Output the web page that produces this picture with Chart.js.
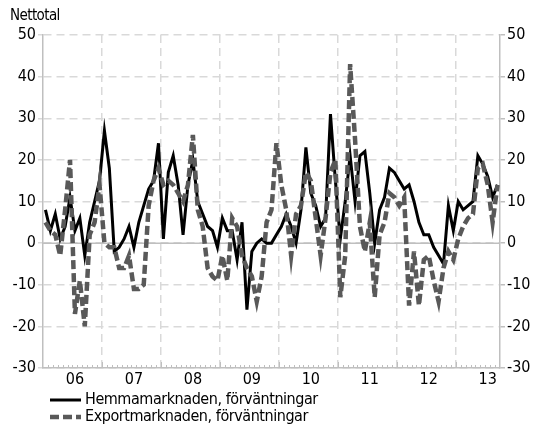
<!DOCTYPE html>
<html>
<head>
<meta charset="utf-8">
<script src="https://cdn.jsdelivr.net/npm/chart.js@4.4.0/dist/chart.umd.min.js"></script>
<style>
  html, body { margin: 0; padding: 0; background: #fff; }
  #wrap { width: 548px; height: 427px; }
</style>
</head>
<body>
<div id="wrap"><canvas id="chart"></canvas></div>
<script>
// year labels on the x axis, one per year (2006 - 2013)
const years = ['06', '07', '08', '09', '10', '11', '12', '13'];
const monthsIn2013 = 9;

// monthly categories, Jan 2006 .. Sep 2013
const months = [];
years.forEach((y, k) => {
  const n = k === years.length - 1 ? monthsIn2013 : 12;
  for (let m = 1; m <= n; m++) months.push('20' + y + '-' + String(m).padStart(2, '0'));
});

const yTicks = [-30, -20, -10, 0, 10, 20, 30, 40, 50];

// Hemmamarknaden, förväntningar (nettotal)
const hemma = [
  8, 3, 7, 1, 4, 11, 3, 6, -3, 5, 10, 15,
  27, 18, -2, -1, 1, 4, -1, 5, 9, 13, 15, 24,
  1, 17, 21, 14, 2, 14, 20, 10, 7, 4, 3, -1,
  6, 3, 3, -4, 5, -16, -2, 0, 1, 0, 0, 2,
  4, 7, 4, 0, 8, 23, 12, 9, 4, 6, 31, 15,
  1, 10, 21, 10, 21, 22, 12, 0, 8, 11, 18, 17,
  15, 13, 14, 10, 5, 2, 2, -1, -3, -5, 9, 3,
  10, 8, 9, 10, 21, 19, 16, 11, 14
];

// Exportmarknaden, förväntningar (nettotal)
const export_ = [
  5, 3, 2, -3, 8, 20, -17, -9, -20, 2, 5, 14,
  0, -1, -1, -6, -6, -3, -11, -11, -10, 9, 15, 18,
  14, 15, 14, 12, 10, 14, 26, 8, 4, -6, -8, -9,
  -3, -9, 6, 4, -3, -6, -8, -14, -8, 5, 8, 24,
  14, 8, -3, 7, 9, 17, 15, 6, -3, 6, 17, 20,
  -13, -3, 43, 25, 4, -2, 5, -13, 2, 5, 12, 11,
  9, 11, -15, -2, -15, -4, -3, -9, -14, -6, -2, -4,
  1, 4, 6, 7, 18, 19, 14, 5, 14
];

const FONT = "'DejaVu Sans Condensed', 'DejaVu Sans', sans-serif";
const GRID = '#d9d9d9';
const AXIS = '#bfbfbf';

// zero line, month ticks, header text and legend
const extras = {
  id: 'extras',
  beforeDatasetsDraw(chart) {
    const {ctx, chartArea, scales} = chart;
    const y0 = scales.y.getPixelForValue(0);
    ctx.save();
    ctx.strokeStyle = AXIS;
    ctx.lineWidth = 1.5;
    ctx.beginPath();
    ctx.moveTo(chartArea.left, y0);
    ctx.lineTo(chartArea.right, y0);
    ctx.stroke();
    // small month ticks on the bottom axis
    const step = (chartArea.right - chartArea.left) / months.length;
    ctx.lineWidth = 1;
    for (let i = 1; i < months.length; i++) {
      const x = Math.round(chartArea.left + i * step) + 0.5;
      const len = i % 12 === 0 ? 6 : 3;
      ctx.beginPath();
      ctx.moveTo(x, chartArea.bottom);
      ctx.lineTo(x, chartArea.bottom - len);
      ctx.stroke();
    }
    ctx.restore();
  },
  afterDraw(chart) {
    const {ctx} = chart;
    ctx.save();
    ctx.fillStyle = '#000';
    ctx.letterSpacing = '-0.6px';
    ctx.font = '15px ' + FONT;
    ctx.textBaseline = 'alphabetic';
    ctx.fillText('Nettotal', 10, 20);

    ctx.font = '16px ' + FONT;
    ctx.letterSpacing = '-0.45px';
    ctx.textBaseline = 'middle';
    chart.data.datasets.forEach((ds, k) => {
      const y = 400 + k * 17;
      ctx.strokeStyle = ds.borderColor;
      ctx.lineWidth = ds.borderWidth;
      ctx.setLineDash(ds.borderDash || []);
      ctx.beginPath();
      ctx.moveTo(50, y);
      ctx.lineTo(81, y);
      ctx.stroke();
      ctx.setLineDash([]);
      ctx.fillText(ds.label, 85, y);
    });
    ctx.restore();
  }
};

const ctx = document.getElementById('chart').getContext('2d');
const chart = new Chart(ctx, {
  type: 'line',
  data: {
    labels: months,
    datasets: [{
      label: 'Hemmamarknaden, förväntningar',
      data: hemma,
      borderColor: '#000000',
      borderWidth: 3,
      pointRadius: 0,
      tension: 0,
      order: 2
    }, {
      label: 'Exportmarknaden, förväntningar',
      data: export_,
      borderColor: '#595959',
      borderWidth: 4.5,
      borderDash: [9, 4],
      pointRadius: 0,
      tension: 0,
      order: 1
    }]
  },
  options: {
    responsive: true,
    maintainAspectRatio: false,
    animation: false,
    layout: { padding: { top: 35, bottom: 35, left: 0, right: 0 } },
    plugins: {
      legend: { display: false },
      title: { display: false },
      tooltip: { enabled: false }
    },
    scales: {
      x: {
        type: 'category',
        offset: true,
        grid: {
          offset: true,
          color: c => (c.index % 12 === 0 && c.index > 0) ? GRID : 'rgba(0,0,0,0)',
          lineWidth: 1.5,
          drawTicks: false
        },
        border: { display: true, color: AXIS, width: 1.5, dash: [8, 5] },
        ticks: {
          autoSkip: false,
          maxRotation: 0,
          padding: 2,
          color: '#000',
          font: { family: FONT, size: 16 },
          callback: (v, i) => i % 12 === 6 ? years[Math.floor(i / 12)] : ''
        },
        afterFit: s => { s.height = 24; }
      },
      y: {
        position: 'left',
        min: -30,
        max: 50,
        afterBuildTicks: s => { s.ticks = yTicks.map(v => ({ value: v })); },
        grid: { color: GRID, lineWidth: 1.5, tickLength: 5 },
        border: { display: true, color: AXIS, width: 1.5, dash: [8, 5] },
        ticks: { color: '#000', padding: 2, font: { family: FONT, size: 16 } },
        afterFit: s => { s.width = 43; }
      },
      y2: {
        position: 'right',
        min: -30,
        max: 50,
        afterBuildTicks: s => { s.ticks = yTicks.map(v => ({ value: v })); },
        grid: { drawOnChartArea: false, color: AXIS, lineWidth: 1.5, tickLength: 5 },
        border: { display: true, color: AXIS, width: 1.5 },
        ticks: { color: '#000', padding: 2, font: { family: FONT, size: 16 } },
        afterFit: s => { s.width = 48; }
      }
    }
  },
  plugins: [extras]
});
</script>
</body>
</html>
